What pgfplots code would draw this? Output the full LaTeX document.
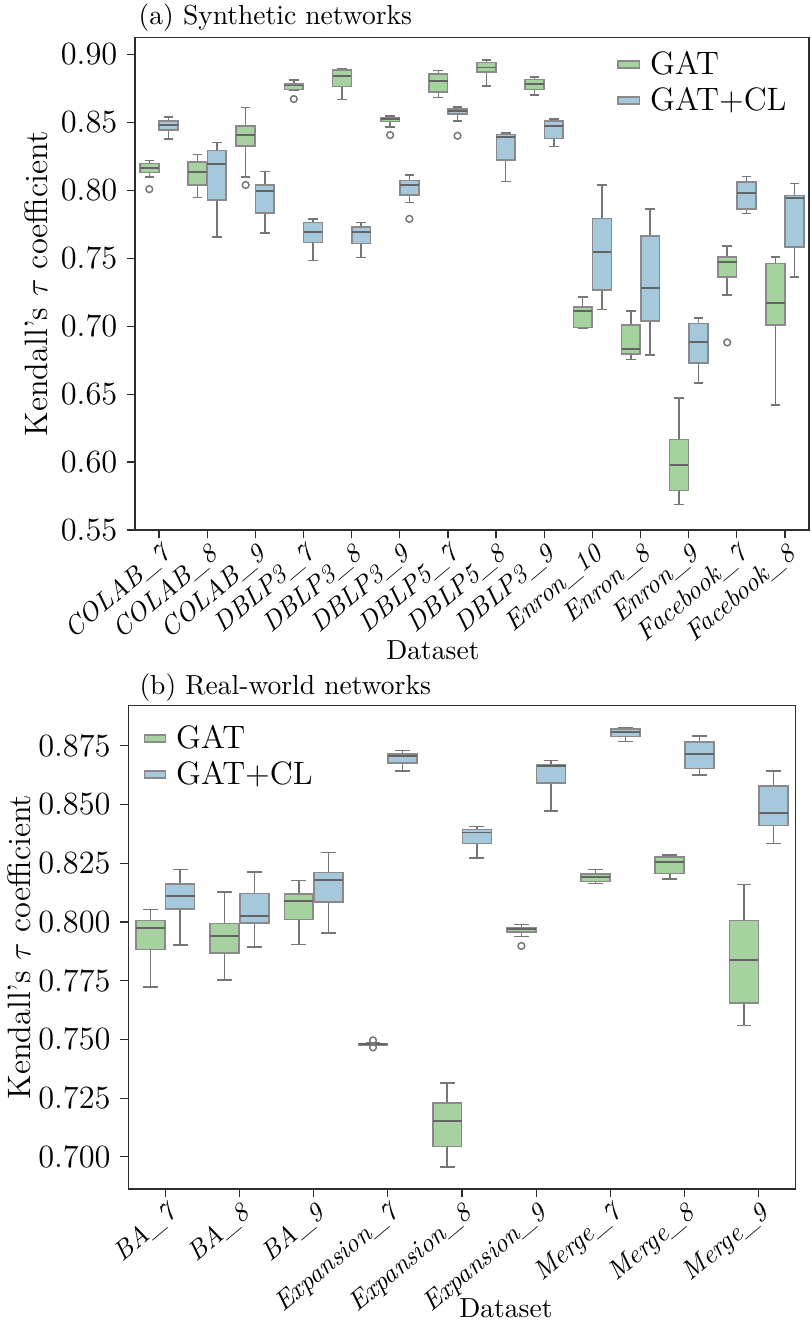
\documentclass[border=0pt]{standalone}
\usepackage{pgfplots}
\pgfplotsset{compat=1.18}
\usepgfplotslibrary{statistics}
\definecolor{gatgreen}{RGB}{166,210,160}
\definecolor{gatblue}{RGB}{166,200,221}
\definecolor{boxgray}{RGB}{138,138,138}
\definecolor{medgray}{RGB}{100,100,100}
\definecolor{whgray}{RGB}{118,118,118}
\definecolor{spine}{RGB}{45,45,45}

% #1 draw position, #2..#6 = lower whisker, lower quartile, median, upper quartile, upper whisker, #7 colour
\newcommand{\bp}[7]{\addplot[forget plot, fill=#7, draw=boxgray, line width=0.6pt,
  boxplot prepared={draw direction=y, draw position=#1, lower whisker=#2, lower quartile=#3,
  median=#4, upper quartile=#5, upper whisker=#6}] coordinates {};}
\newcommand{\G}[6]{\bp{#1-0.2}{#2}{#3}{#4}{#5}{#6}{gatgreen}}
\newcommand{\B}[6]{\bp{#1+0.2}{#2}{#3}{#4}{#5}{#6}{gatblue}}

\pgfplotsset{
  myaxis/.style={
    scale only axis,
    axis line style={spine, line width=0.45pt},
    tick align=outside, tick pos=left,
    major tick length=3pt,
    tick style={spine, line width=0.45pt},
    yticklabel style={font=\fontsize{12}{14}\selectfont},
    xticklabel style={rotate=40, anchor=north east, inner sep=1pt,
      font=\fontsize{9.8}{11}\selectfont\itshape},
    scaled y ticks=false,
    ylabel={Kendall's $\tau$ coefficient},
    xlabel={Dataset},
    legend image code/.code={\draw[##1, line width=0.6pt] (0pt,-1.3pt) rectangle (7.8pt,1.3pt);},
    legend style={draw=none, fill=none, inner sep=0pt, row sep=3.8pt, column sep=3.7pt,
      font=\fontsize{12}{14}\selectfont,
      nodes={inner sep=0pt, text height=8.5pt, text depth=1pt}},
    legend cell align=left,
    boxplot/draw direction=y,
    boxplot/box extend=0.39,
    boxplot/whisker extend=0.2,
    boxplot/every median/.style={draw=medgray, line width=0.7pt},
    boxplot/every whisker/.style={draw=whgray, line width=0.55pt},
  },
}

\begin{document}
\begin{tikzpicture}
\path[use as bounding box] (0,0) rectangle (300pt,489.63pt);

% ---------------- (a) Synthetic networks ----------------
\begin{axis}[myaxis,
  at={(49.96pt,293.3pt)}, anchor=south west,
  width=249.7pt, height=182.3pt,
  xmin=-0.5, xmax=13.5, ymin=0.55, ymax=0.912,
  xtick={0,...,13},
  xticklabels={COLAB\_7,COLAB\_8,COLAB\_9,DBLP3\_7,DBLP3\_8,DBLP3\_9,DBLP5\_7,DBLP5\_8,DBLP3\_9,Enron\_10,Enron\_8,Enron\_9,Facebook\_7,Facebook\_8},
  ytick={0.55,0.60,...,0.91},
  yticklabel style={/pgf/number format/.cd, fixed, fixed zerofill, precision=2},
  title={(a) Synthetic networks},
  title style={at={(rel axis cs:0,1)}, anchor=base west, xshift=1.2pt, yshift=-1pt,
    inner sep=0pt, font=\fontsize{10.2}{12}\selectfont},
  ylabel style={at={(rel axis cs:0,0.5)}, anchor=center, yshift=36.6pt, font=\fontsize{12}{14}\selectfont},
  xlabel style={at={(rel axis cs:0,0)}, anchor=center, xshift=110.4pt, yshift=-44.4pt, font=\fontsize{10.2}{12}\selectfont},
  legend style={at={(rel axis cs:0.715,0.973)}, anchor=north west},
]
\addlegendimage{fill=gatgreen, draw=boxgray}
\addlegendentry{GAT}
\addlegendimage{fill=gatblue, draw=boxgray}
\addlegendentry{GAT+CL}

\G{0}{0.8097}{0.8129}{0.8165}{0.8195}{0.8217}
\B{0}{0.8376}{0.8442}{0.8477}{0.8508}{0.8538}
\G{1}{0.7945}{0.8036}{0.8132}{0.8209}{0.8264}
\B{1}{0.7655}{0.7926}{0.8193}{0.8293}{0.8349}
\G{2}{0.8097}{0.8323}{0.8403}{0.8474}{0.8609}
\B{2}{0.7686}{0.7833}{0.7992}{0.8038}{0.8136}
\G{3}{0.8732}{0.8741}{0.8770}{0.8782}{0.8809}
\B{3}{0.7481}{0.7615}{0.7691}{0.7762}{0.7787}
\G{4}{0.8665}{0.8763}{0.8839}{0.8885}{0.8890}
\B{4}{0.7503}{0.7608}{0.7691}{0.7728}{0.7762}
\G{5}{0.8464}{0.8506}{0.8521}{0.8532}{0.8545}
\B{5}{0.7911}{0.7965}{0.8038}{0.8070}{0.8112}
\G{6}{0.8682}{0.8721}{0.8800}{0.8855}{0.8880}
\B{6}{0.8508}{0.8558}{0.8582}{0.8599}{0.8611}
\G{7}{0.8765}{0.8868}{0.8902}{0.8939}{0.8956}
\B{7}{0.8063}{0.8220}{0.8393}{0.8408}{0.8422}
\G{8}{0.8701}{0.8741}{0.8778}{0.8814}{0.8833}
\B{8}{0.8320}{0.8381}{0.8469}{0.8510}{0.8525}
\G{9}{0.6987}{0.6991}{0.7111}{0.7141}{0.7214}
\B{9}{0.7121}{0.7266}{0.7544}{0.7791}{0.8038}
\G{10}{0.6754}{0.6793}{0.6833}{0.7009}{0.7111}
\B{10}{0.6786}{0.7038}{0.7282}{0.7662}{0.7860}
\G{11}{0.5690}{0.5790}{0.5980}{0.6165}{0.6470}
\B{11}{0.6580}{0.6730}{0.6880}{0.7020}{0.7060}
\G{12}{0.7230}{0.7360}{0.7470}{0.7510}{0.7590}
\B{12}{0.7830}{0.7860}{0.7980}{0.8060}{0.8100}
\G{13}{0.6420}{0.7010}{0.7170}{0.7460}{0.7510}
\B{13}{0.7360}{0.7580}{0.7940}{0.7960}{0.8050}

\addplot[forget plot, only marks, mark=o, mark size=1.25pt, draw=whgray, mark options={line width=0.55pt}]
  coordinates {(-0.2,0.8007) (1.8,0.8038) (2.8,0.8670) (4.8,0.8405) (5.2,0.7789) (6.2,0.8400) (11.8,0.6880)};
\end{axis}

% ---------------- (b) Real-world networks ----------------
\begin{axis}[myaxis,
  at={(47.48pt,49.26pt)}, anchor=south west,
  width=247.3pt, height=179.1pt,
  xmin=-0.5, xmax=8.5, ymin=0.6863, ymax=0.8922,
  xtick={0,...,8},
  xticklabels={BA\_7,BA\_8,BA\_9,Expansion\_7,Expansion\_8,Expansion\_9,Merge\_7,Merge\_8,Merge\_9},
  ytick={0.700,0.725,...,0.880},
  yticklabel style={/pgf/number format/.cd, fixed, fixed zerofill, precision=3},
  title={(b) Real-world networks},
  title style={at={(rel axis cs:0,1)}, anchor=base west, xshift=4pt, yshift=-1.8pt,
    inner sep=0pt, font=\fontsize{10.2}{12}\selectfont},
  ylabel style={at={(rel axis cs:0,0.5)}, anchor=center, yshift=40.4pt, font=\fontsize{12}{14}\selectfont},
  xlabel style={at={(rel axis cs:0,0)}, anchor=center, xshift=139.9pt, yshift=-44.1pt, font=\fontsize{10.2}{12}\selectfont},
  legend style={at={(rel axis cs:0.0222,0.959)}, anchor=north west},
]
\addlegendimage{fill=gatgreen, draw=boxgray}
\addlegendentry{GAT}
\addlegendimage{fill=gatblue, draw=boxgray}
\addlegendentry{GAT+CL}

\G{0}{0.7723}{0.7882}{0.7976}{0.8007}{0.8053}
\B{0}{0.7902}{0.8054}{0.8112}{0.8161}{0.8223}
\G{1}{0.7753}{0.7869}{0.7939}{0.7993}{0.8128}
\B{1}{0.7893}{0.7996}{0.8024}{0.8122}{0.8213}
\G{2}{0.7903}{0.8010}{0.8091}{0.8118}{0.8176}
\B{2}{0.7953}{0.8084}{0.8179}{0.8210}{0.8295}
\G{3}{0.7474}{0.7477}{0.7480}{0.7483}{0.7486}
\B{3}{0.8643}{0.8678}{0.8706}{0.8716}{0.8729}
\G{4}{0.6957}{0.7044}{0.7153}{0.7230}{0.7315}
\B{4}{0.8273}{0.8334}{0.8381}{0.8393}{0.8406}
\G{5}{0.7938}{0.7956}{0.7969}{0.7977}{0.7989}
\B{5}{0.8473}{0.8591}{0.8663}{0.8670}{0.8688}
\G{6}{0.8163}{0.8173}{0.8192}{0.8203}{0.8223}
\B{6}{0.8768}{0.8790}{0.8808}{0.8821}{0.8828}
\G{7}{0.8183}{0.8207}{0.8257}{0.8276}{0.8286}
\B{7}{0.8625}{0.8653}{0.8717}{0.8766}{0.8791}
\G{8}{0.7560}{0.7656}{0.7837}{0.8007}{0.8160}
\B{8}{0.8335}{0.8410}{0.8463}{0.8578}{0.8643}

\addplot[forget plot, only marks, mark=o, mark size=1.25pt, draw=whgray, mark options={line width=0.55pt}]
  coordinates {(2.8,0.7496) (2.8,0.7466) (4.8,0.7898)};
\end{axis}
\end{tikzpicture}
\end{document}
